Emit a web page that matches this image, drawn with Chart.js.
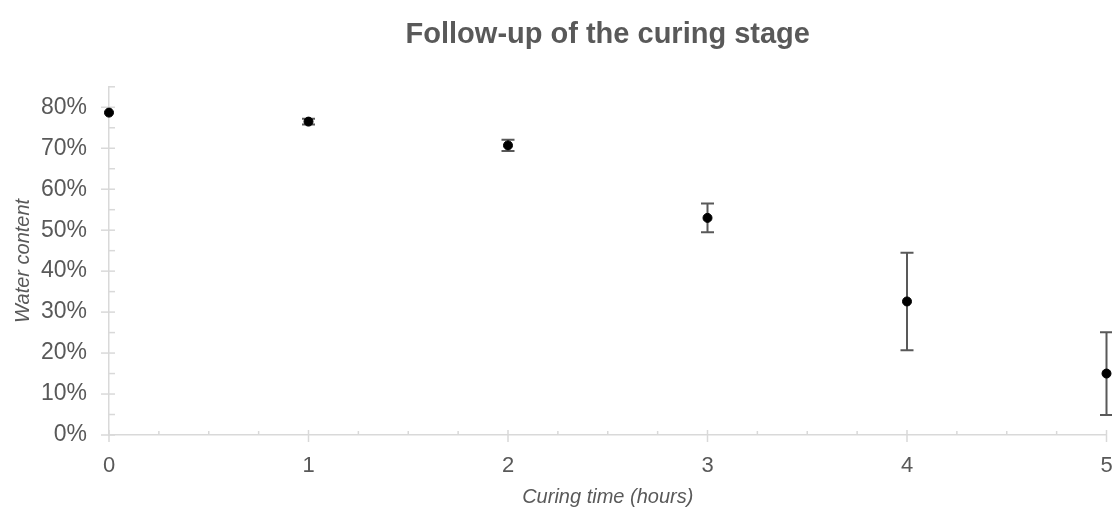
<!DOCTYPE html>
<html>
<head>
<meta charset="utf-8">
<script src="https://cdn.jsdelivr.net/npm/chart.js@4"></script>
<style>
  html, body { margin: 0; padding: 0; background: #fff; }
  #wrap { width: 1112px; height: 509px; }
</style>
</head>
<body>
<div id="wrap"><canvas id="myChart"></canvas></div>
<script>
const hours = [0, 1, 2, 3, 4, 5];
const water = [0.787, 0.765, 0.707, 0.530, 0.326, 0.150];
const waterErr = [0, 0.007, 0.014, 0.035, 0.119, 0.101];
const yTicks = [0, 0.1, 0.2, 0.3, 0.4, 0.5, 0.6, 0.7, 0.8];
const xTicks = [0, 1, 2, 3, 4, 5];

const textColor = '#595959';
const axisColor = '#d9d9d9';

// error bars + minor/major ticks drawn from the chart's own scales
const extras = {
  id: 'extras',
  beforeDatasetsDraw(chart) {
    const { ctx, scales: { x, y } } = chart;
    ctx.save();
    ctx.strokeStyle = axisColor;
    ctx.lineWidth = 1.5;
    // y ticks
    for (let v = 0; v <= 0.851; v += 0.05) {
      const py = y.getPixelForValue(v);
      const major = Math.round(v * 100) % 10 === 0;
      ctx.beginPath();
      ctx.moveTo(major ? x.left - 8 : x.left, py);
      ctx.lineTo(x.left + 6, py);
      ctx.stroke();
    }
    // x ticks
    for (let v = 0; v <= 5.001; v += 0.25) {
      const px = x.getPixelForValue(v);
      const major = Math.abs(v - Math.round(v)) < 0.001;
      ctx.beginPath();
      ctx.moveTo(px, y.bottom - (major ? 5 : 4));
      ctx.lineTo(px, y.bottom + (major ? 7 : 0));
      ctx.stroke();
    }
    // error bars
    ctx.strokeStyle = textColor;
    ctx.lineWidth = 2;
    hours.forEach((h, i) => {
      if (!waterErr[i]) return;
      const px = x.getPixelForValue(h);
      const top = y.getPixelForValue(water[i] + waterErr[i]);
      const bot = y.getPixelForValue(water[i] - waterErr[i]);
      ctx.beginPath();
      ctx.moveTo(px, top);
      ctx.lineTo(px, bot);
      ctx.moveTo(px - 6.5, top);
      ctx.lineTo(px + 6.5, top);
      ctx.moveTo(px - 6.5, bot);
      ctx.lineTo(px + 6.5, bot);
      ctx.stroke();
    });
    ctx.restore();
  }
};

const ctx = document.getElementById('myChart').getContext('2d');
new Chart(ctx, {
  type: 'scatter',
  data: {
    datasets: [{
      label: 'Water content',
      data: hours.map((h, i) => ({ x: h, y: water[i] })),
      backgroundColor: '#000',
      borderColor: '#000',
      pointRadius: 4.5,
      clip: false
    }]
  },
  options: {
    responsive: true,
    maintainAspectRatio: false,
    animation: false,
    layout: { padding: { left: 0, right: 4, top: 0, bottom: 0 } },
    plugins: {
      legend: { display: false },
      tooltip: { enabled: false },
      title: {
        display: true,
        text: 'Follow-up of the curing stage',
        color: textColor,
        fullSize: false,
        font: { family: 'Liberation Sans, Arial, sans-serif', size: 29, weight: 'bold' },
        padding: { top: 18, bottom: 34 }
      }
    },
    scales: {
      x: {
        type: 'linear',
        min: 0,
        max: 5,
        afterBuildTicks: s => { s.ticks = xTicks.map(v => ({ value: v })); },
        afterFit: s => { s.height = 74; s.paddingRight = 0; s.paddingLeft = 0; },
        grid: { display: false },
        border: { display: true, color: axisColor, width: 1.5 },
        ticks: {
          color: textColor,
          padding: 10,
          font: { family: 'Liberation Sans, Arial, sans-serif', size: 22 }
        },
        title: {
          display: true,
          text: 'Curing time (hours)',
          color: textColor,
          padding: { top: 0, bottom: 0 },
          font: { family: 'Liberation Sans, Arial, sans-serif', size: 20, style: 'italic' }
        }
      },
      y: {
        min: 0,
        max: 0.85,
        afterBuildTicks: s => { s.ticks = yTicks.map(v => ({ value: v })); },
        afterFit: s => { s.width = 109; },
        grid: { display: false },
        border: { display: true, color: axisColor, width: 1.5 },
        ticks: {
          color: textColor,
          padding: 14,
          font: { family: 'Liberation Sans, Arial, sans-serif', size: 23 },
          callback: v => Math.round(v * 100) + '%'
        },
        title: {
          display: true,
          text: 'Water content',
          color: textColor,
          padding: { top: 11, bottom: 0 },
          font: { family: 'Liberation Sans, Arial, sans-serif', size: 20, style: 'italic' }
        }
      }
    }
  },
  plugins: [extras]
});
</script>
</body>
</html>
